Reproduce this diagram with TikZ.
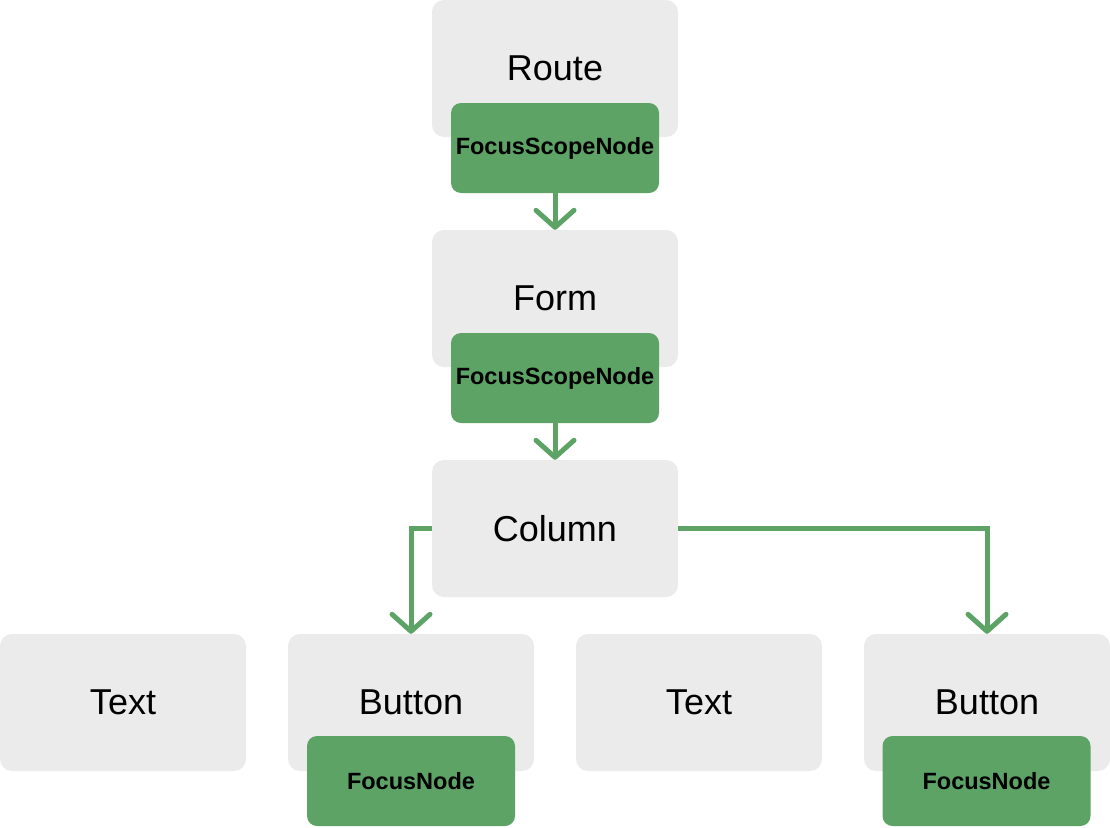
\documentclass[tikz,border=0pt]{standalone}
\usepackage{fontspec}
\setmainfont{Liberation Sans}
\usetikzlibrary{arrows.meta}
\definecolor{boxgray}{HTML}{EBEBEB}
\definecolor{fgreen}{HTML}{5CA365}
\tikzset{
  widget/.style={fill=boxgray, rounded corners=12pt, minimum width=246pt, minimum height=137pt, inner sep=0pt, font=\fontsize{36}{40}\selectfont},
  focus/.style={fill=fgreen, rounded corners=10pt, minimum width=208pt, minimum height=90pt, inner sep=0pt, font=\fontsize{23.5}{26}\selectfont\bfseries},
  link/.style={draw=fgreen, line width=5pt, -{Straight Barb[length=17pt,width=38pt,line cap=round,line join=round]}}
}
\begin{document}
\begin{tikzpicture}[x=1pt,y=-1pt]
\useasboundingbox (0,0) rectangle (1110,827);
\node[widget] (route) at (555,68.5) {\raisebox{-2pt}{Route}};
\node[widget] (form) at (555,298.5) {\raisebox{-2pt}{Form}};
\node[widget] (column) at (555,528.5) {\raisebox{-1pt}{Column}};
\node[widget] (text1) at (123,702.5) {\raisebox{-2pt}{Text}};
\node[widget] (button1) at (411,702.5) {\raisebox{-2pt}{Button}};
\node[widget] (text2) at (699,702.5) {\raisebox{-2pt}{Text}};
\node[widget] (button2) at (987,702.5) {\raisebox{-2pt}{Button}};
\node[focus] (fs1) at (555,148) {\raisebox{-2pt}{FocusScopeNode}};
\node[focus] (fs2) at (555,378) {\raisebox{-2pt}{FocusScopeNode}};
\node[focus] (fn1) at (411,781) {\raisebox{-2pt}{FocusNode}};
\node[focus] (fn2) at (986.5,781) {\raisebox{-2pt}{FocusNode}};
\draw[link] (fs1.south) -- (form.north);
\draw[link] (fs2.south) -- (column.north);
\draw[link] (column.west) -| (button1.north);
\draw[link] (column.east) -| (button2.north);
\end{tikzpicture}
\end{document}
